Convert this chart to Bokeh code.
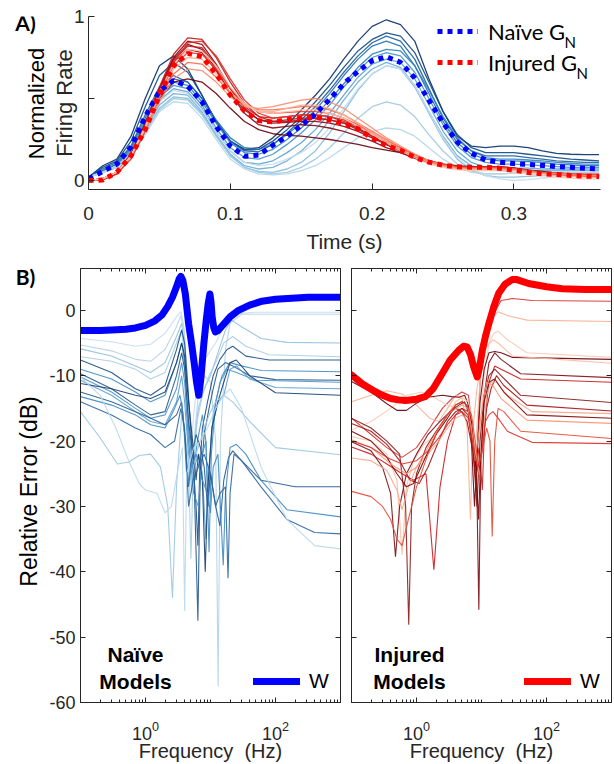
import math
from bokeh.plotting import figure
from bokeh.models import Range1d, FixedTicker, LinearAxis, LogAxis, Legend, LegendItem, Label
from bokeh.layouts import column, row
from bokeh.embed import file_html
from bokeh.resources import INLINE

FONT = "Liberation Sans"
LEG_FONT = "Lato"
AXC = "#262626"

# ---------------- Panel A data ----------------
TIME = [0.00, 0.01, 0.02, 0.03, 0.04, 0.05, 0.06, 0.07, 0.08, 0.09,
        0.10, 0.11, 0.12, 0.13, 0.14, 0.15, 0.16, 0.17, 0.18, 0.19,
        0.20, 0.21, 0.22, 0.23, 0.24, 0.25, 0.26, 0.27, 0.28, 0.29,
        0.30, 0.31, 0.32, 0.33, 0.34, 0.35, 0.36]

NAIVE_MEAN = [0.01, 0.055, 0.10, 0.205, 0.39, 0.545, 0.61, 0.575, 0.48, 0.33,
              0.21, 0.148, 0.155, 0.215, 0.27, 0.335, 0.405, 0.495, 0.59, 0.665,
              0.73, 0.755, 0.72, 0.625, 0.49, 0.35, 0.235, 0.165, 0.125, 0.112,
              0.103, 0.098, 0.092, 0.085, 0.08, 0.074, 0.07]
INJURED_MEAN = [0.0, 0.003, 0.05, 0.15, 0.31, 0.52, 0.70, 0.775, 0.755, 0.65,
                0.52, 0.423, 0.365, 0.357, 0.37, 0.38, 0.385, 0.37, 0.347, 0.315,
                0.258, 0.213, 0.183, 0.14, 0.112, 0.093, 0.083, 0.081, 0.081, 0.074,
                0.063, 0.049, 0.04, 0.037, 0.031, 0.026, 0.024]

NAIVE_TRACES = [
    [0.02, 0.09, 0.13, 0.27, 0.50, 0.70, 0.76, 0.68, 0.52, 0.36, 0.24, 0.19, 0.20, 0.26, 0.34, 0.43, 0.52, 0.62, 0.74, 0.85, 0.94, 0.98, 0.95, 0.85, 0.62, 0.42, 0.27, 0.21, 0.20, 0.21, 0.21, 0.20, 0.18, 0.165, 0.16, 0.158, 0.158],
    [0.02, 0.08, 0.12, 0.24, 0.45, 0.64, 0.72, 0.66, 0.52, 0.36, 0.24, 0.185, 0.19, 0.24, 0.31, 0.39, 0.48, 0.58, 0.69, 0.79, 0.86, 0.90, 0.88, 0.78, 0.60, 0.42, 0.28, 0.20, 0.17, 0.17, 0.17, 0.16, 0.15, 0.14, 0.13, 0.125, 0.12],
    [0.02, 0.07, 0.11, 0.21, 0.40, 0.57, 0.64, 0.60, 0.50, 0.36, 0.24, 0.18, 0.175, 0.22, 0.29, 0.37, 0.45, 0.55, 0.66, 0.76, 0.84, 0.88, 0.85, 0.74, 0.56, 0.38, 0.25, 0.18, 0.15, 0.15, 0.15, 0.14, 0.13, 0.12, 0.115, 0.11, 0.11],
    [0.02, 0.06, 0.10, 0.20, 0.38, 0.55, 0.62, 0.60, 0.50, 0.37, 0.26, 0.20, 0.19, 0.22, 0.28, 0.35, 0.43, 0.53, 0.64, 0.74, 0.82, 0.85, 0.82, 0.70, 0.53, 0.36, 0.23, 0.16, 0.13, 0.12, 0.12, 0.115, 0.11, 0.10, 0.095, 0.09, 0.09],
    [0.02, 0.06, 0.10, 0.19, 0.36, 0.53, 0.60, 0.58, 0.48, 0.35, 0.23, 0.17, 0.16, 0.19, 0.25, 0.32, 0.40, 0.49, 0.59, 0.69, 0.77, 0.80, 0.79, 0.70, 0.55, 0.39, 0.26, 0.18, 0.14, 0.13, 0.13, 0.125, 0.12, 0.11, 0.105, 0.10, 0.10],
    [0.02, 0.05, 0.09, 0.18, 0.35, 0.51, 0.58, 0.56, 0.46, 0.32, 0.20, 0.14, 0.13, 0.16, 0.22, 0.29, 0.37, 0.46, 0.57, 0.67, 0.75, 0.78, 0.76, 0.66, 0.50, 0.34, 0.21, 0.14, 0.11, 0.10, 0.10, 0.095, 0.09, 0.085, 0.08, 0.08, 0.08],
    [0.02, 0.05, 0.09, 0.17, 0.33, 0.49, 0.56, 0.54, 0.44, 0.30, 0.18, 0.11, 0.10, 0.12, 0.17, 0.23, 0.31, 0.41, 0.52, 0.63, 0.71, 0.74, 0.72, 0.62, 0.46, 0.30, 0.18, 0.11, 0.08, 0.075, 0.075, 0.075, 0.07, 0.07, 0.07, 0.07, 0.07],
    [0.02, 0.05, 0.08, 0.16, 0.31, 0.46, 0.53, 0.52, 0.42, 0.28, 0.16, 0.09, 0.07, 0.08, 0.12, 0.18, 0.26, 0.37, 0.49, 0.60, 0.68, 0.72, 0.69, 0.58, 0.42, 0.27, 0.15, 0.09, 0.065, 0.06, 0.06, 0.06, 0.06, 0.06, 0.06, 0.06, 0.06],
    [0.02, 0.05, 0.08, 0.15, 0.30, 0.44, 0.51, 0.50, 0.41, 0.27, 0.15, 0.08, 0.055, 0.05, 0.07, 0.11, 0.18, 0.29, 0.42, 0.55, 0.65, 0.70, 0.68, 0.57, 0.41, 0.25, 0.13, 0.06, 0.03, 0.02, 0.02, 0.025, 0.03, 0.035, 0.04, 0.04, 0.04],
    [0.02, 0.05, 0.08, 0.15, 0.29, 0.43, 0.50, 0.49, 0.40, 0.27, 0.15, 0.08, 0.05, 0.04, 0.05, 0.08, 0.13, 0.20, 0.29, 0.38, 0.45, 0.48, 0.46, 0.39, 0.28, 0.18, 0.10, 0.06, 0.04, 0.04, 0.045, 0.05, 0.05, 0.05, 0.05, 0.05, 0.05],
    [0.02, 0.05, 0.08, 0.14, 0.28, 0.42, 0.48, 0.47, 0.38, 0.25, 0.13, 0.07, 0.04, 0.035, 0.04, 0.06, 0.09, 0.14, 0.20, 0.26, 0.30, 0.32, 0.31, 0.27, 0.20, 0.13, 0.08, 0.05, 0.04, 0.04, 0.045, 0.05, 0.05, 0.05, 0.05, 0.05, 0.05],
    [0.02, 0.05, 0.09, 0.16, 0.32, 0.48, 0.55, 0.53, 0.43, 0.30, 0.18, 0.11, 0.09, 0.10, 0.13, 0.17, 0.23, 0.32, 0.44, 0.56, 0.65, 0.70, 0.68, 0.58, 0.42, 0.26, 0.14, 0.07, 0.03, 0.01, 0.00, 0.005, 0.015, 0.02, 0.025, 0.03, 0.03],
]
INJURED_TRACES = [
    [0.0, 0.01, 0.05, 0.15, 0.32, 0.50, 0.60, 0.62, 0.60, 0.53, 0.44, 0.36, 0.31, 0.285, 0.275, 0.27, 0.26, 0.25, 0.235, 0.22, 0.20, 0.185, 0.17, 0.145, 0.12, 0.10, 0.085, 0.08, 0.08, 0.08, 0.075, 0.065, 0.055, 0.045, 0.04, 0.035, 0.03],
    [0.0, 0.01, 0.05, 0.16, 0.35, 0.56, 0.74, 0.83, 0.80, 0.68, 0.53, 0.41, 0.34, 0.32, 0.33, 0.34, 0.335, 0.32, 0.30, 0.27, 0.24, 0.20, 0.17, 0.135, 0.11, 0.095, 0.085, 0.085, 0.085, 0.08, 0.07, 0.06, 0.05, 0.045, 0.04, 0.035, 0.03],
    [0.0, 0.01, 0.05, 0.16, 0.34, 0.56, 0.75, 0.85, 0.83, 0.71, 0.56, 0.44, 0.37, 0.35, 0.355, 0.36, 0.36, 0.35, 0.33, 0.30, 0.26, 0.22, 0.19, 0.15, 0.12, 0.10, 0.09, 0.085, 0.085, 0.085, 0.075, 0.06, 0.05, 0.04, 0.035, 0.03, 0.025],
    [0.0, 0.005, 0.045, 0.15, 0.33, 0.54, 0.72, 0.80, 0.78, 0.67, 0.53, 0.43, 0.37, 0.36, 0.37, 0.38, 0.38, 0.37, 0.35, 0.31, 0.27, 0.22, 0.18, 0.14, 0.11, 0.095, 0.085, 0.08, 0.08, 0.08, 0.07, 0.055, 0.045, 0.04, 0.035, 0.03, 0.025],
    [0.0, 0.005, 0.04, 0.15, 0.34, 0.57, 0.77, 0.87, 0.86, 0.75, 0.60, 0.47, 0.39, 0.36, 0.36, 0.37, 0.38, 0.37, 0.35, 0.32, 0.27, 0.22, 0.18, 0.14, 0.11, 0.09, 0.08, 0.08, 0.085, 0.085, 0.075, 0.06, 0.045, 0.035, 0.03, 0.025, 0.02],
    [0.0, 0.005, 0.045, 0.15, 0.33, 0.55, 0.73, 0.82, 0.81, 0.70, 0.56, 0.45, 0.39, 0.38, 0.39, 0.40, 0.40, 0.39, 0.36, 0.32, 0.27, 0.22, 0.18, 0.14, 0.11, 0.09, 0.08, 0.08, 0.08, 0.08, 0.07, 0.055, 0.045, 0.04, 0.035, 0.03, 0.03],
    [0.0, 0.005, 0.04, 0.13, 0.30, 0.52, 0.72, 0.84, 0.85, 0.76, 0.62, 0.49, 0.41, 0.38, 0.39, 0.40, 0.40, 0.39, 0.37, 0.33, 0.28, 0.23, 0.19, 0.15, 0.12, 0.095, 0.085, 0.08, 0.08, 0.08, 0.07, 0.06, 0.05, 0.04, 0.035, 0.03, 0.03],
    [0.0, 0.01, 0.05, 0.15, 0.32, 0.53, 0.70, 0.78, 0.77, 0.68, 0.56, 0.47, 0.42, 0.41, 0.415, 0.42, 0.42, 0.41, 0.38, 0.34, 0.29, 0.24, 0.20, 0.16, 0.12, 0.10, 0.085, 0.08, 0.08, 0.08, 0.07, 0.06, 0.05, 0.045, 0.04, 0.035, 0.035],
    [0.0, 0.01, 0.05, 0.15, 0.32, 0.50, 0.65, 0.72, 0.71, 0.63, 0.53, 0.46, 0.43, 0.43, 0.44, 0.45, 0.45, 0.43, 0.40, 0.35, 0.30, 0.25, 0.20, 0.16, 0.12, 0.095, 0.08, 0.075, 0.075, 0.075, 0.07, 0.06, 0.05, 0.045, 0.04, 0.04, 0.04],
    [0.0, 0.01, 0.05, 0.15, 0.31, 0.48, 0.62, 0.68, 0.67, 0.60, 0.51, 0.45, 0.44, 0.45, 0.47, 0.49, 0.50, 0.48, 0.44, 0.38, 0.32, 0.26, 0.21, 0.16, 0.12, 0.09, 0.075, 0.07, 0.07, 0.07, 0.065, 0.055, 0.045, 0.04, 0.035, 0.03, 0.03],
    [0.0, 0.01, 0.05, 0.15, 0.32, 0.52, 0.68, 0.75, 0.74, 0.65, 0.54, 0.46, 0.42, 0.42, 0.44, 0.46, 0.46, 0.44, 0.40, 0.35, 0.29, 0.24, 0.19, 0.15, 0.11, 0.085, 0.07, 0.065, 0.065, 0.065, 0.06, 0.05, 0.04, 0.03, 0.025, 0.02, 0.02],
    [0.0, 0.01, 0.05, 0.15, 0.33, 0.54, 0.71, 0.80, 0.79, 0.70, 0.57, 0.47, 0.42, 0.41, 0.42, 0.43, 0.43, 0.41, 0.38, 0.33, 0.28, 0.23, 0.18, 0.14, 0.10, 0.08, 0.065, 0.06, 0.06, 0.06, 0.05, 0.04, 0.03, 0.02, 0.015, 0.01, 0.01],
]

A_TIME_TICKS = [0, 0.1, 0.2, 0.3]
A_RATE_TICKS = [0, 0.5, 1]

# ---------------- Panel B data: (frequency Hz, relative error dB) ----------------
NAIVE_W = [(0.1, -3.1), (0.2, -3.1), (0.3, -3.0), (0.5, -2.9), (0.7, -2.7), (1.0, -2.3), (1.4, -1.6),
           (1.8, -0.7), (2.2, 0.6), (2.6, 2.0), (3.0, 3.6), (3.3, 4.8), (3.5, 5.2), (3.75, 4.6), (4.1, 2.5),
           (4.6, -2.0), (5.1, -5.0), (5.6, -8.0), (6.1, -11.0), (6.6, -13.0), (7.1, -10.5), (7.9, -5.1),
           (8.6, -1.5), (9.2, 1.0), (9.8, 2.5), (10.2, 1.2), (10.6, -1.0), (11.2, -2.6), (11.9, -3.3),
           (13, -3.1), (17, -1.8), (20, -1.0), (27, 0.0), (40, 0.8), (62, 1.4), (100, 1.7), (316, 2.0), (1000, 2.0)]

INJURED_W = [(0.1, -9.9), (0.15, -11.3), (0.21, -12.2), (0.3, -13.0), (0.4, -13.5), (0.53, -13.7), (0.68, -13.8),
             (1.0, -13.6), (1.37, -13.2), (1.8, -12.0), (2.48, -9.7), (3.3, -7.6), (4.47, -6.1), (5.3, -5.5),
             (6.0, -5.6), (6.8, -6.8), (7.6, -8.7), (8.6, -10.2), (9.3, -8.8), (10.3, -6.1), (11.5, -4.0),
             (13, -2.0), (15.5, 0.6), (18.4, 2.6), (23, 4.0), (29.6, 4.7), (35, 4.7), (53, 4.1), (100, 3.6),
             (175, 3.3), (400, 3.2), (1000, 3.2)]

NAIVE_ERR = [
    [(0.1, -4.3), (0.3, -4.8), (0.7, -5.5), (1.2, -5.2), (2, -3.5), (3, -1.0), (3.5, -0.2), (3.9, -2.5), (4.4, -10), (5.0, -22), (5.5, -16), (6.3, -11), (7.5, -8), (9.5, -6.5), (12, -5), (16, -2.5), (20, -1), (25, -0.5), (50, -0.3), (1000, -0.3)],
    [(0.1, -5.3), (0.3, -6.2), (0.7, -7.5), (1.2, -7.8), (2, -6), (3, -2.5), (3.5, -0.8), (3.9, -3), (4.3, -9), (4.8, -18), (5.3, -25), (5.8, -18), (6.5, -13), (8, -10), (10, -11), (12, -20), (13.1, -57.5), (14.2, -20), (17, -6), (20, -2), (30, -0.6), (1000, -0.6)],
    [(0.1, -5.9), (0.3, -7), (0.7, -8.5), (1.2, -9.5), (2, -8), (3, -4), (3.6, -2), (4.0, -6), (4.5, -16), (5.1, -28), (5.7, -20), (6.5, -15), (8, -12), (10, -10), (13, -6.5), (17, -3), (21, -1.5), (30, -2.5), (60, -4.3), (150, -4.9), (1000, -5.0)],
    [(0.1, -7.1), (0.3, -7.8), (0.7, -9), (1.2, -10.5), (2, -9.5), (3, -5), (3.6, -3), (4.0, -8), (4.5, -20), (5.0, -38), (5.4, -25), (6.2, -17), (7.5, -13), (9.5, -10), (12, -8), (16, -5), (22, -4), (35, -5.5), (80, -6.8), (1000, -7.1)],
    [(0.1, -7.6), (0.3, -9.5), (0.7, -12), (1.2, -13), (2, -11.5), (3, -6), (3.6, -3), (4.0, -5), (4.5, -12), (5.3, -22), (6.0, -30), (6.4, -36), (6.8, -25), (7.5, -18), (9, -14), (11, -10), (14, -7.5), (18, -6), (22, -5.5), (35, -7), (80, -7.6), (1000, -7.6)],
    [(0.1, -9.0), (0.3, -10.5), (0.7, -12.5), (1.2, -14), (2, -13), (3, -8), (3.6, -5), (4.0, -8), (4.6, -18), (5.4, -25), (6.3, -20), (7.5, -16), (8.5, -20), (9.5, -37), (10.3, -22), (12, -14), (15, -10), (20, -8), (30, -8.5), (60, -9.2), (1000, -9.4)],
    [(0.1, -9.7), (0.3, -12), (0.7, -14.5), (1.2, -16), (2, -15.5), (3, -10), (3.6, -6.5), (4.0, -9), (4.6, -17), (5.5, -23), (6.4, -47.5), (6.9, -27), (8, -19), (9.5, -15), (11, -12), (13, -9), (17, -8), (22, -8.5), (40, -10), (100, -10.6), (1000, -10.7)],
    [(0.1, -10.2), (0.3, -12.5), (0.7, -15), (1.2, -16.5), (2, -16), (3, -12), (3.6, -8), (4.0, -11), (4.6, -20), (5.5, -28), (6.5, -30), (7.5, -22), (8.5, -20), (9.3, -30), (9.8, -23), (11, -16), (14, -11), (18, -9), (25, -9.5), (50, -10.7), (1000, -11.0)],
    [(0.1, -10.7), (0.3, -13), (0.7, -15.5), (1.2, -17), (2, -17.5), (3, -14), (3.6, -10), (4.0, -14), (4.6, -22), (5.6, -24), (6.6, -22), (7.5, -25), (8.5, -35), (9.2, -26), (10.5, -18), (13, -14), (16, -13), (20, -9), (25, -8.5), (40, -10.5), (100, -11.8), (1000, -12.0)],
    [(0.1, -11.2), (0.3, -12), (0.7, -13), (1.2, -13.5), (2, -12.5), (3, -8), (3.6, -5), (4.0, -7), (4.5, -13), (5.3, -20), (6.0, -26), (6.5, -22), (7.5, -26), (8.3, -40), (9, -28), (10.5, -18), (13, -14), (16, -11), (20, -8), (25, -7.6), (40, -10), (100, -12.6), (1000, -13.0)],
    [(0.1, -15.5), (0.2, -19.5), (0.37, -23.5), (0.55, -23.2), (0.8, -22.2), (1.2, -22), (1.7, -24), (2.2, -30), (2.6, -44), (3.0, -27), (3.6, -16), (4.2, -20), (5, -26), (6, -22), (7.5, -19), (9.5, -16), (12, -14), (16, -13), (22, -14), (40, -17), (100, -21), (1000, -22.1)],
    [(0.1, -12.5), (0.3, -14), (0.7, -15.5), (1.2, -16.5), (2, -17.5), (3, -16), (3.6, -14), (4.1, -20), (4.6, -27), (5.2, -22), (6.0, -19), (7, -21), (8, -24), (9, -30), (10, -25), (12, -30), (14, -33), (16, -26), (19, -22.5), (22, -21.5), (30, -23), (60, -26), (200, -27), (1000, -27)],
    [(0.1, -13.2), (0.3, -14.5), (0.7, -16), (1.2, -17.5), (2, -18), (2.8, -15), (3.4, -13), (3.8, -16), (4.4, -27), (5.0, -24), (6.0, -22), (7.5, -26), (9, -28), (10, -31), (11, -24), (13, -22), (15.7, -39), (17, -28), (20, -21), (25, -20.5), (35, -22), (60, -26), (150, -30.5), (1000, -31.6)],
    [(0.1, -14), (0.3, -16), (0.7, -18), (1.2, -19), (2, -21), (2.8, -20), (3.5, -15), (4.0, -18), (4.6, -30), (5.4, -26), (6.5, -24), (8, -22), (10, -25), (12, -30), (14, -28), (17, -27), (18.6, -41), (20, -28), (23, -22), (30, -23), (60, -27), (150, -32), (400, -34), (1000, -34.2)],
    [(0.1, -10.2), (0.2, -13), (0.35, -18), (0.55, -23), (0.8, -26.5), (1.0, -27.5), (1.5, -28), (2.0, -31), (2.5, -30), (3.2, -24), (3.7, -21), (4.0, -46), (4.3, -25), (5.5, -21), (7, -20), (9, -18), (12, -15), (16, -13), (20, -12), (30, -15), (60, -24), (150, -32), (400, -36), (1000, -36.5)],
]

INJURED_ERR = [
    [(0.1, -16.5), (0.2, -19), (0.35, -21), (0.6, -22.5), (1, -21), (1.6, -18), (2.5, -15), (3.5, -13.5), (5, -12.5), (6.3, -13), (7.2, -18), (8, -25), (8.7, -20), (9.6, -10), (11, -5), (13, -2.5), (16, -0.3), (20, 1.5), (30, 1.8), (60, 1.5), (1000, 1.4)],
    [(0.1, -14), (0.2, -13), (0.35, -12.3), (0.6, -12.8), (1, -14.5), (1.6, -16.5), (2.2, -17), (3, -15), (4, -13), (5, -13.5), (6, -18), (6.76, -32), (7.4, -18), (8.5, -12), (10, -8), (12, -4), (15, -1), (18, -0.2), (25, -0.8), (50, -1.5), (1000, -1.7)],
    [(0.1, -18.3), (0.2, -17), (0.4, -15), (0.7, -13), (1.2, -12.5), (2, -13.5), (3, -14.5), (4.5, -15), (6, -17), (7.5, -22), (8.5, -27), (9.5, -18), (11, -10), (13, -5), (15.5, -3.5), (18, -3.2), (25, -4.5), (50, -6.5), (1000, -7.2)],
    [(0.1, -10.9), (0.2, -12.5), (0.35, -14.3), (0.5, -15.3), (0.7, -15.3), (1.0, -14.2), (1.5, -13.3), (2.5, -13.0), (3.5, -13.2), (4.5, -13.3), (5.5, -13.0), (6.3, -14.5), (7, -20), (7.8, -30), (8.6, -22), (9.5, -14), (11, -9), (13, -6.5), (16, -6.3), (20, -6.5), (30, -7.2), (1000, -7.5)],
    [(0.1, -19.3), (0.2, -20), (0.35, -22), (0.5, -26), (0.6, -37.4), (0.7, -27), (0.9, -23), (1.3, -20.5), (2, -19), (3, -16), (4, -14), (5, -13.3), (6.3, -14), (7, -16), (8, -22), (8.7, -16), (10, -8), (12, -5.5), (15, -4.5), (18, -5), (30, -7), (1000, -8.1)],
    [(0.1, -20.1), (0.2, -21.5), (0.3, -24), (0.4, -28), (0.475, -37.7), (0.55, -30), (0.7, -25), (1, -22), (1.5, -19), (2.3, -17), (3.3, -15.5), (4.5, -14.5), (5.5, -14), (6.5, -16), (7.5, -22), (8.5, -28), (9.1, -45.8), (9.7, -25), (11, -13), (13, -8), (16, -6.5), (20, -7.5), (40, -9.7), (1000, -10.3)],
    [(0.1, -20.9), (0.2, -22), (0.35, -23.5), (0.6, -25), (0.9, -26), (1.4, -25), (1.85, -39.7), (2.3, -27), (3, -20), (4, -16), (5, -15), (6.3, -15.5), (7.2, -20), (8.2, -24), (9.2, -21), (10.3, -27.5), (11.2, -17), (13, -11), (16, -8.5), (20, -9), (40, -10.5), (1000, -11.0)],
    [(0.1, -16.5), (0.2, -18), (0.35, -20), (0.55, -22), (0.68, -30), (0.76, -48.1), (0.84, -30), (1.0, -25), (1.4, -21), (2, -18.5), (3, -16), (4, -15), (5, -15.5), (6, -17), (7.5, -22), (8.5, -30), (9.5, -20), (11, -13), (13, -10), (16, -9), (20, -10), (40, -13), (1000, -14.1)],
    [(0.1, -17.3), (0.2, -18.5), (0.35, -20.5), (0.55, -23), (0.8, -26), (1.1, -26.5), (1.5, -24), (2.2, -20), (3, -17), (4, -15.5), (5, -15), (6.2, -16), (7.5, -21), (9, -25), (10.3, -21), (12, -15), (14, -12), (17, -10), (22, -11.5), (50, -14.5), (1000, -15.4)],
    [(0.1, -22.6), (0.2, -23), (0.35, -24.5), (0.5, -27.5), (0.6, -30.5), (0.75, -27), (1.0, -24), (1.5, -22), (2.2, -20), (3, -18), (4, -16.5), (5, -16), (6.5, -17), (8, -21), (9.5, -26), (10.5, -20), (12, -13), (14, -11), (17, -11), (25, -13), (60, -15.5), (1000, -15.8)],
    [(0.1, -18.5), (0.2, -20), (0.35, -22.5), (0.5, -25), (0.7, -27), (0.9, -26.5), (1.3, -23), (2, -19), (3, -16.5), (4, -14.5), (5, -14), (6, -14.5), (7, -17), (8.2, -24), (9, -32), (9.8, -22), (11, -14), (13, -11), (16, -10.5), (22, -12.5), (50, -16), (1000, -16.5)],
    [(0.1, -19.8), (0.2, -21), (0.4, -23.5), (0.7, -25), (1.0, -24), (1.5, -21), (2.2, -18), (3, -16), (4, -15), (5, -14.5), (6.2, -15), (7, -18), (8, -23), (9, -19), (10.5, -14), (12, -11), (15, -11.5), (20, -13.5), (50, -16.8), (1000, -17.3)],
    [(0.1, -27.7), (0.2, -28.5), (0.3, -30), (0.4, -32), (0.5, -35), (0.6, -36), (0.75, -32), (1.0, -27), (1.5, -22), (2.2, -18), (3, -16), (4, -14.5), (5, -14), (6, -14.5), (7, -16), (8, -20), (9, -24), (10.5, -21), (12, -18), (13.5, -20), (14.6, -34.6), (16, -20), (18, -15), (22, -15.5), (40, -18.5), (1000, -19.6)],
    [(0.1, -20), (0.2, -21), (0.35, -22.5), (0.6, -23.5), (1.0, -23), (1.5, -21.5), (2.2, -19.5), (3, -17.5), (4, -16), (5, -15.5), (6.3, -16.5), (7.5, -21), (8.7, -24), (10, -22), (11.5, -17), (13, -16), (15, -15.5), (18, -16.5), (25, -18.5), (60, -20.2), (1000, -20.4)],
]

B_DB_TICKS = [-60, -50, -40, -30, -20, -10, 0]
B_FREQ_TICKS = [1, 100]
B_FREQ_MINOR = [m * d for d in (0.1, 1, 10, 100) for m in range(2, 10)] + [10, 1000]

# ---------------- styles ----------------
BLUE_SHADES = ["#08306b", "#0d4a86", "#1c5f9c", "#2171b5", "#3182bd", "#4292c6",
               "#5aa2d0", "#6baed6", "#85bcdc", "#9ecae1", "#b5d5ea", "#c6dbef"]
RED_SHADES = ["#67000d", "#7f0a12", "#99000d", "#a50f15", "#bb1b1b", "#cb181d",
              "#de2d26", "#ef3b2c", "#f6694c", "#fb8a6a", "#fcae91", "#fcc5b0"]
NAIVE_ERR_COLORS = ["#c6dbef", "#b3d3e8", "#8fc1de", "#a6cee3", "#1b4f86", "#3f8cc4", "#24578f",
                    "#4a94c8", "#5a9fd0", "#173f73", "#9ac8e0", "#265b92", "#3d88c2", "#2a64a0", "#b8d8ec"]
INJURED_ERR_COLORS = ["#d6302b", "#fcae91", "#fdc9b4", "#67000d", "#fcbba1", "#7a0c14", "#cb181d",
                      "#8b1a1a", "#a50f15", "#f6a58a", "#7f0000", "#fc9272", "#e34a33", "#de2d26"]


def style_axis(ax, size, standoff, tick_in=5):
    ax.major_label_text_font = FONT
    ax.major_label_text_font_size = size
    ax.major_label_text_color = AXC
    ax.axis_line_color = AXC
    ax.major_tick_line_color = AXC
    ax.minor_tick_line_color = AXC
    ax.major_tick_in = tick_in
    ax.major_tick_out = 0
    ax.minor_tick_in = 3
    ax.minor_tick_out = 0
    ax.major_label_standoff = standoff
    ax.axis_label_text_font = FONT
    ax.axis_label_text_font_style = "normal"
    ax.axis_label_text_color = AXC


def hide_labels(ax, ticks):
    ax.major_label_overrides = {t: "" for t in ticks}
    ax.major_label_text_font_size = "1px"
    ax.major_label_standoff = 0


def screen_label(p, x, y, text, size, bold=False, font=FONT, angle=0.0, align="center"):
    p.add_layout(Label(x=x, y=y, x_units="screen", y_units="screen", text=text,
                       text_font=font, text_font_size=size,
                       text_font_style="bold" if bold else "normal",
                       text_color="black", text_align=align, text_baseline="middle", angle=angle))


def strip(width, height):
    s = figure(width=width, height=height, x_range=Range1d(0, 1), y_range=Range1d(0, 1),
               x_axis_location=None, y_axis_location=None, output_backend="svg",
               toolbar_location=None, min_border=0)
    s.grid.visible = False
    s.outline_line_color = None
    s.background_fill_color = "white"
    s.border_fill_color = "white"
    return s


# ---------------- Panel A ----------------
# the strip's frame is aligned with the frame of panel A (rows 16..189)
sA = strip(48, 255)
screen_label(sA, 25, 167, "A)", "21px", bold=True, font=LEG_FONT)
screen_label(sA, 36, 86, "Normalized", "22px", angle=math.pi / 2)

pA = figure(width=566, height=255, x_range=Range1d(0, 0.361), y_range=Range1d(-0.055, 1.0),
            output_backend="svg", toolbar_location=None,
            min_border_left=40, min_border_right=14, min_border_top=16, min_border_bottom=66)
pA.outline_line_color = None
pA.grid.visible = False
pA.background_fill_color = "white"
pA.border_fill_color = "white"

for tr, c in zip(NAIVE_TRACES, BLUE_SHADES):
    pA.line(TIME, tr, line_color=c, line_width=1.3, line_alpha=0.9)
for tr, c in zip(INJURED_TRACES, RED_SHADES):
    pA.line(TIME, tr, line_color=c, line_width=1.3, line_alpha=0.9)
rb = pA.line(TIME, NAIVE_MEAN, line_color="#0000ff", line_width=5, line_dash="5 5")
rr = pA.line(TIME, INJURED_MEAN, line_color="#ff0000", line_width=5, line_dash="5 5")

pA.xaxis.ticker = FixedTicker(ticks=A_TIME_TICKS)
pA.xaxis.major_label_overrides = {0: "0", 0.1: "0.1", 0.2: "0.2", 0.3: "0.3"}
pA.yaxis.ticker = FixedTicker(ticks=A_RATE_TICKS)
pA.yaxis.major_label_overrides = {0: "0", 0.5: "", 1: "1"}
style_axis(pA.xaxis[0], "19px", 17, tick_in=6)
style_axis(pA.yaxis[0], "19px", 4, tick_in=6)
pA.xaxis.axis_label = "Time (s)"
pA.xaxis.axis_label_text_font_size = "21px"
pA.xaxis.axis_label_standoff = 7
pA.yaxis.axis_label = "Firing Rate"
pA.yaxis.axis_label_text_font_size = "22px"
pA.yaxis.axis_label_standoff = -6

legA = Legend(items=[LegendItem(label="Naïve G", renderers=[rb]),
                     LegendItem(label="Injured G", renderers=[rr])],
              location=(349, 113), orientation="vertical", padding=0, spacing=3, margin=0,
              glyph_width=41, glyph_height=28, label_height=28, label_standoff=10,
              label_text_font=LEG_FONT, label_text_font_size="22px", label_text_color="black",
              border_line_color=None, background_fill_alpha=0)
pA.add_layout(legA)
screen_label(pA, 476, 148, "N", "15px", font=LEG_FONT, align="left")
screen_label(pA, 488, 117, "N", "15px", font=LEG_FONT, align="left")


# ---------------- Panel B ----------------
def make_b(lines, colors, wline, wcolor, width, bl, br, show_ylabels, title1, title2, title_x):
    p = figure(width=width, height=509, x_axis_type="log", x_range=Range1d(0.1, 1000),
               y_range=Range1d(-60, 6.4), output_backend="svg", toolbar_location=None,
               min_border_left=bl, min_border_right=br, min_border_top=13, min_border_bottom=61)
    p.grid.visible = False
    p.outline_line_color = AXC
    p.background_fill_color = "white"
    p.border_fill_color = "white"
    for ln, c in zip(lines, colors):
        p.line([q[0] for q in ln], [q[1] for q in ln], line_color=c, line_width=1.1, line_alpha=0.9)
    rw = p.line([q[0] for q in wline], [q[1] for q in wline], line_color=wcolor, line_width=7,
                line_join="round", line_cap="round")

    p.xaxis.ticker = FixedTicker(ticks=B_FREQ_TICKS, minor_ticks=B_FREQ_MINOR)
    p.yaxis.ticker = FixedTicker(ticks=B_DB_TICKS)
    style_axis(p.xaxis[0], "18px", 18)
    style_axis(p.yaxis[0], "18px", 5)
    p.yaxis.minor_tick_line_color = None
    p.xaxis.axis_label = "Frequency\u00a0 (Hz)"
    p.xaxis.axis_label_text_font_size = "20px"
    p.xaxis.axis_label_standoff = -3
    if show_ylabels:
        p.yaxis.major_label_overrides = {v: str(v) for v in B_DB_TICKS}
    else:
        hide_labels(p.yaxis[0], B_DB_TICKS)

    top = LogAxis(ticker=FixedTicker(ticks=B_FREQ_TICKS, minor_ticks=B_FREQ_MINOR))
    style_axis(top, "1px", 0)
    hide_labels(top, B_FREQ_TICKS)
    p.add_layout(top, "above")
    right = LinearAxis(ticker=FixedTicker(ticks=B_DB_TICKS))
    style_axis(right, "1px", 0)
    hide_labels(right, B_DB_TICKS)
    right.minor_tick_line_color = None
    p.add_layout(right, "right")

    leg = Legend(items=[LegendItem(label="W", renderers=[rw])], location=(173, 9), padding=0, margin=0,
                 glyph_width=47, glyph_height=24, label_height=24, label_standoff=9,
                 label_text_font=FONT, label_text_font_size="21px", label_text_color="black",
                 border_line_color=None, background_fill_alpha=0)
    p.add_layout(leg)
    screen_label(p, title_x, 48, title1, "21px", bold=True)
    screen_label(p, title_x, 21, title2, "21px", bold=True)
    return p


# the strip's frame is aligned with the frames of panel B (rows 268..703)
sB = strip(45, 509)
screen_label(sB, 25, 426, "B)", "21px", bold=True, font=LEG_FONT)
screen_label(sB, 28, 211, "Relative Error (dB)", "23px", angle=math.pi / 2)

pB1 = make_b(NAIVE_ERR, NAIVE_ERR_COLORS, NAIVE_W, "#0000ff", 300, 35, 5, True, "Naïve", "Models", 55)
pB2 = make_b(INJURED_ERR, INJURED_ERR_COLORS, INJURED_W, "#ff0000", 269, 6, 3, False, "Injured", "Models", 58)

layout = column(row(sA, pA), row(sB, pB1, pB2))
open("out.html", "w").write(file_html(layout, INLINE))
